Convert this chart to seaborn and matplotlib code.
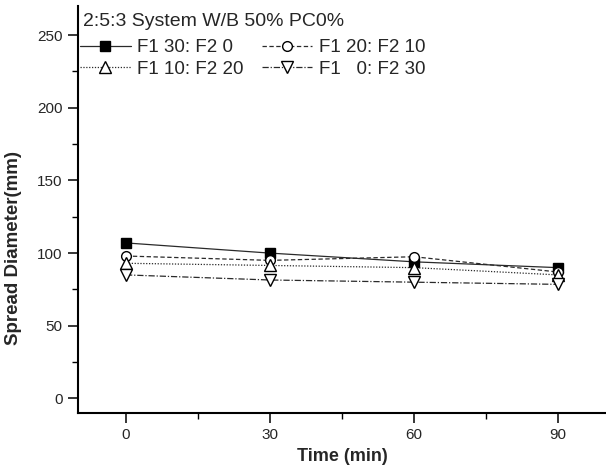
import matplotlib
matplotlib.use("Agg")
import matplotlib.pyplot as plt
from matplotlib.ticker import MultipleLocator
import seaborn as sns
import pandas as pd

# Spread diameter measured at each time step for four F1:F2 blends
times = [0, 30, 60, 90]
series_names = ["F1 30: F2 0", "F1 20: F2 10", "F1 10: F2 20", "F1   0: F2 30"]
f1_30_f2_0 = [107, 100, 94, 90]
f1_20_f2_10 = [98, 95, 97.5, 87]
f1_10_f2_20 = [93, 91.5, 90, 85]
f1_0_f2_30 = [85, 81.5, 80, 78.5]
legend_title = "2:5:3 System W/B 50% PC0%"
x_label = "Time (min)"
y_label = "Spread Diameter(mm)"
x_ticks = [0, 30, 60, 90]
y_ticks = [0, 50, 100, 150, 200, 250]

values = [f1_30_f2_0, f1_20_f2_10, f1_10_f2_20, f1_0_f2_30]
frames = [pd.DataFrame({"time": times, "diameter": v, "mix": n})
          for n, v in zip(series_names, values)]
data = pd.concat(frames, ignore_index=True)

sns.set_style("ticks")
plt.rcParams["font.family"] = ["Liberation Sans", "DejaVu Sans"]

styles = {
    series_names[0]: dict(marker="s", mfc="black", ms=6.5, ls="-"),
    series_names[1]: dict(marker="o", mfc="white", ms=7.0, ls=(0, (3.5, 2))),
    series_names[2]: dict(marker="^", mfc="white", ms=8.0, ls=(0, (1, 1.3))),
    series_names[3]: dict(marker="v", mfc="white", ms=8.0, ls=(0, (5, 1.5, 1, 1.5))),
}

W, H = 606, 470
fig = plt.figure(figsize=(W / 100, H / 100), dpi=100)
ax = fig.add_axes([78 / W, 57 / H, 528 / W, 407 / H])

for name in series_names:
    st = styles[name]
    sns.lineplot(
        data=data[data["mix"] == name], x="time", y="diameter", ax=ax,
        color="#2a2a2a", linewidth=0.9, linestyle=st["ls"],
        marker=st["marker"], markersize=st["ms"],
        markerfacecolor=st["mfc"], markeredgecolor="black",
        markeredgewidth=1.0, label=name, errorbar=None,
    )

ax.set_xlim(-10, 100)
ax.set_ylim(-10, 270)
ax.set_xticks(x_ticks)
ax.set_yticks(y_ticks)
ax.xaxis.set_minor_locator(MultipleLocator(15))
ax.yaxis.set_minor_locator(MultipleLocator(25))
ax.tick_params(axis="both", which="major", direction="out", length=7,
               width=1.1, labelsize=11, pad=4, color="black")
ax.tick_params(axis="both", which="minor", direction="out", length=4,
               width=1.0, color="black")

sns.despine(ax=ax, top=True, right=True)
for side in ("left", "bottom"):
    ax.spines[side].set_linewidth(1.5)
    ax.spines[side].set_color("black")

ax.set_xlabel(x_label, fontsize=13, fontweight="bold", labelpad=4)
ax.set_ylabel(y_label, fontsize=13.5, fontweight="bold")
ax.yaxis.set_label_coords(-0.106, 0.405)

# Heading above the legend entries
fig.text(83 / W, 1 - 22 / H, legend_title, fontsize=14, ha="left", va="center")

handles, labels = ax.get_legend_handles_labels()
order = [0, 2, 1, 3]
leg = ax.legend(
    [handles[i] for i in order], [labels[i] for i in order],
    ncol=2, frameon=False, loc="upper left",
    bbox_to_anchor=(80 / W, 1 - 39 / H), bbox_transform=fig.transFigure,
    borderaxespad=0, borderpad=0, fontsize=13.5,
    handlelength=2.7, handletextpad=0.35, columnspacing=0.95,
    labelspacing=0.25,
)

fig.savefig("out.png", dpi=100)
